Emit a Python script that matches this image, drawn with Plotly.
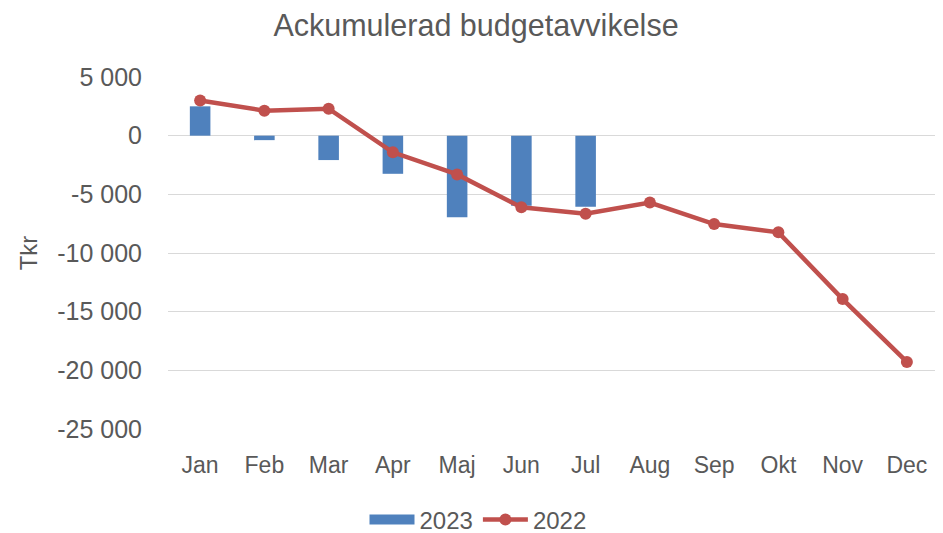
import plotly.graph_objects as go

months = ["Jan", "Feb", "Mar", "Apr", "Maj", "Jun", "Jul", "Aug", "Sep", "Okt", "Nov", "Dec"]
months_2023 = ["Jan", "Feb", "Mar", "Apr", "Maj", "Jun", "Jul"]
values_2023 = [2500, -380, -2080, -3250, -6950, -5980, -6060]
values_2022 = [3000, 2130, 2300, -1420, -3300, -6110, -6650, -5700, -7530, -8240, -13930, -19280]
ytick_vals = [5000, 0, -5000, -10000, -15000, -20000, -25000]
ytick_text = ["5 000", "0", "-5 000", "-10 000", "-15 000", "-20 000", "-25 000"]

FONT = "Liberation Sans"
TXT = "#595959"
BLUE = "#4f81bd"
RED = "#c0504d"
W, H = 935, 525

fig = go.Figure()
fig.add_trace(go.Bar(
    x=months_2023, y=values_2023, name="2023", showlegend=False,
    marker=dict(color=BLUE, line=dict(width=0)),
))
# legend proxy for the bar series (wide rectangle, as in the reference)
fig.add_trace(go.Scatter(
    x=[None], y=[None], name="2023", mode="lines",
    line=dict(color=BLUE, width=16),
))
fig.add_trace(go.Scatter(
    x=months, y=values_2022, name="2022", mode="lines+markers",
    line=dict(color=RED, width=4.5),
    marker=dict(color=RED, size=12),
))

fig.update_layout(
    width=W, height=H,
    paper_bgcolor="white", plot_bgcolor="white",
    margin=dict(l=160, r=4, t=69, b=104, autoexpand=False),
    bargap=0.68,
    font=dict(family=FONT, color=TXT, size=23),
    title=dict(text="Ackumulerad budgetavvikelse", x=468 / W, xref="container",
               xanchor="center", y=1 - 17 / H, yref="container", yanchor="middle",
               font=dict(family=FONT, size=30.5, color=TXT)),
    legend=dict(orientation="h", x=470 / W, xref="container", xanchor="center",
                y=1 - 512 / H, yref="container", yanchor="middle",
                font=dict(family=FONT, size=24, color=TXT), itemwidth=45,
                traceorder="normal"),
    xaxis=dict(categoryorder="array", categoryarray=months, range=[-0.5, 11.5],
               showgrid=False, showline=False, ticks="", ticklabelstandoff=20,
               automargin=False, tickfont=dict(family=FONT, size=23, color=TXT),
               fixedrange=True),
    yaxis=dict(range=[-25000, 5000], tickvals=ytick_vals, ticktext=ytick_text,
               showgrid=True, gridcolor="#d9d9d9", gridwidth=1.3,
               zeroline=True, zerolinecolor="#d9d9d9", zerolinewidth=1.3,
               showline=False, ticks="", ticklabelstandoff=25, automargin=False,
               tickfont=dict(family=FONT, size=25, color=TXT),
               title=dict(text="Tkr", standoff=12, font=dict(family=FONT, size=24, color=TXT))),
)

fig.write_html("out.html")
